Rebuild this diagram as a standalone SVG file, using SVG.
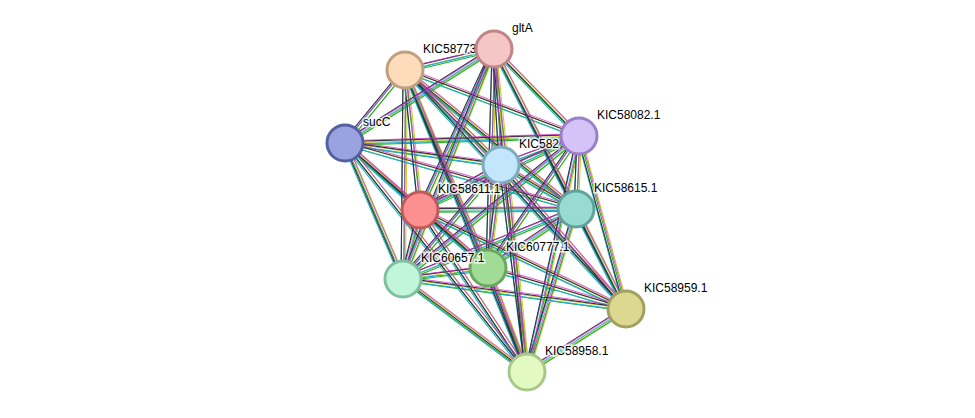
<svg xmlns="http://www.w3.org/2000/svg" xmlns:xlink="http://www.w3.org/1999/xlink" width="975" height="418" viewBox="0 0 975 418">
<style>
.n{stroke-width:3}
.l{font-family:"Liberation Sans",Arial,sans-serif;font-size:12px;fill:#000;stroke:#fff;stroke-width:3;paint-order:stroke;stroke-opacity:.8}
#E path{fill:none}
</style>
<defs>
<g id="E">
<path d="M494 49L405 70M494 49L345 143M494 49L579 136M494 49L501 165M494 49L576 209M494 49L420 210M494 49L488 268M494 49L403 279M494 49L626 309M494 49L527 372
M405 70L345 143M405 70L579 136M405 70L501 165M405 70L576 209M405 70L420 210M405 70L488 268M405 70L403 279M405 70L626 309M405 70L527 372
M345 143L579 136M345 143L501 165M345 143L576 209M345 143L420 210M345 143L488 268M345 143L403 279M345 143L527 372
M579 136L501 165M579 136L576 209M579 136L420 210M579 136L488 268M579 136L403 279M579 136L626 309M579 136L527 372
M501 165L576 209M501 165L420 210M501 165L488 268M501 165L403 279M501 165L626 309M501 165L527 372
M576 209L420 210M576 209L488 268M576 209L403 279M576 209L626 309M576 209L527 372
M420 210L488 268M420 210L403 279M420 210L626 309M420 210L527 372
M488 268L403 279M488 268L626 309M488 268L527 372
M403 279L626 309M403 279L527 372M626 309L527 372"/>
</g>
</defs>
<g id="connectors" stroke-width="1.1">
<use href="#E" stroke="#c4d12b" transform="translate(2.4,0)"/>
<use href="#E" stroke="#1fb31f" transform="translate(0.74,2.28)"/>
<use href="#E" stroke="#22b0d8" transform="translate(-1.94,1.41)"/>
<use href="#E" stroke="#333" transform="translate(-1.94,-1.41)"/>
<use href="#E" stroke="#d030d0" transform="translate(0.74,-2.28)" stroke-opacity=".75"/>
</g>
<g id="n-KIC58773"><circle class="n" cx="405" cy="70" r="18" fill="#fddcbc" stroke="#c0a080"/><text class="l" x="423" y="53">KIC58773</text></g>
<g id="n-gltA"><circle class="n" cx="494" cy="49" r="18" fill="#f5c6c6" stroke="#c08585"/><text class="l" x="512" y="32">gltA</text></g>
<g id="n-sucC"><circle class="n" cx="345" cy="143" r="18" fill="#9aa3e0" stroke="#5560a0"/><text class="l" x="363" y="126">sucC</text></g>
<g id="n-KIC582"><text class="l" x="519" y="148">KIC582</text><circle class="n" cx="501" cy="165" r="18" fill="#c2e6fb" stroke="#80aac0"/></g>
<g id="n-KIC58082"><circle class="n" cx="579" cy="136" r="18" fill="#d5c2f7" stroke="#9a80c8"/><text class="l" x="597" y="119">KIC58082.1</text></g>
<g id="n-KIC58615"><circle class="n" cx="576" cy="209" r="18" fill="#97dbd2" stroke="#5fa39a"/><text class="l" x="594" y="192">KIC58615.1</text></g>
<g id="n-KIC58611"><circle class="n" cx="420" cy="210" r="18" fill="#fc8f8f" stroke="#c05a5a"/><text class="l" x="438" y="193">KIC58611.1</text></g>
<g id="n-KIC60777"><circle class="n" cx="488" cy="268" r="18" fill="#a1dc96" stroke="#6aa860"/><text class="l" x="506" y="251">KIC60777.1</text></g>
<g id="n-KIC60657"><circle class="n" cx="403" cy="279" r="18" fill="#c2f6da" stroke="#80c0a0"/><text class="l" x="421" y="262">KIC60657.1</text></g>
<g id="n-KIC58959"><circle class="n" cx="626" cy="309" r="18" fill="#dcd891" stroke="#a0a060"/><text class="l" x="644" y="292">KIC58959.1</text></g>
<g id="n-KIC58958"><circle class="n" cx="527" cy="372" r="18" fill="#e2fac2" stroke="#a8c88a"/><text class="l" x="545" y="355">KIC58958.1</text></g>
</svg>
